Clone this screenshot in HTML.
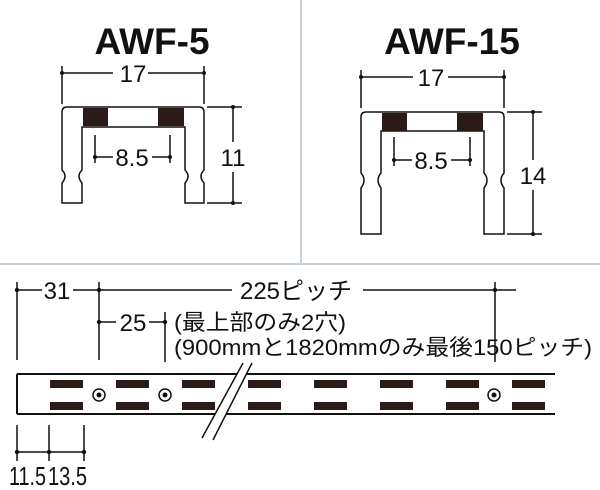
<!DOCTYPE html>
<html><head><meta charset="utf-8"><style>
html,body{margin:0;padding:0;background:#fff;}
svg{display:block;}
text{font-family:"Liberation Sans","Noto Sans CJK JP",sans-serif;fill:#111;}
</style></head><body>
<svg width="600" height="490" viewBox="0 0 600 490" xmlns="http://www.w3.org/2000/svg">
<line x1="301" y1="0" x2="301" y2="264" stroke="#c9d1d9" stroke-width="2"/>
<line x1="0" y1="264" x2="600" y2="264" stroke="#c9d1d9" stroke-width="2"/>
<text x="152" y="54" font-size="37" font-weight="bold" text-anchor="middle">AWF-5</text>
<text x="452" y="54" font-size="37" font-weight="bold" text-anchor="middle">AWF-15</text>

<g stroke="#111" stroke-width="1.5" fill="none">
<path d="M62,203 L62,183 Q68,176 62,170 L62,112 Q62,107 67,107 L199,107 Q204,107 204,112 L204,170 Q198,176 204,183 L204,203 L185,203 L185,183 Q191,176 185,170 L185,127 L82,127 L82,170 Q76,176 82,183 L82,203 Z"/>
<line x1="62" y1="66" x2="62" y2="104"/><line x1="204" y1="66" x2="204" y2="104"/>
<line x1="62" y1="73" x2="113" y2="73"/><line x1="148" y1="73" x2="204" y2="73"/>
<line x1="207" y1="107" x2="242" y2="107"/><line x1="207" y1="203" x2="242" y2="203"/>
<line x1="233" y1="107" x2="233" y2="142"/><line x1="233" y1="172" x2="233" y2="203"/>
<line x1="95" y1="135" x2="95" y2="163"/><line x1="170" y1="135" x2="170" y2="163"/>
<line x1="95" y1="157" x2="113" y2="157"/><line x1="152" y1="157" x2="170" y2="157"/>

<path d="M361,234 L361,188 Q367,180 361,173 L361,117 Q361,112 366,112 L499,112 Q504,112 504,117 L504,173 Q498,180 504,188 L504,234 L484,234 L484,188 Q490,180 484,173 L484,131 L381,131 L381,173 Q375,180 381,188 L381,234 Z"/>
<line x1="361" y1="70" x2="361" y2="108"/><line x1="504" y1="70" x2="504" y2="108"/>
<line x1="361" y1="77" x2="413" y2="77"/><line x1="448" y1="77" x2="504" y2="77"/>
<line x1="507" y1="112" x2="542" y2="112"/><line x1="507" y1="234" x2="542" y2="234"/>
<line x1="533" y1="112" x2="533" y2="160"/><line x1="533" y1="190" x2="533" y2="234"/>
<line x1="394" y1="137" x2="394" y2="166"/><line x1="470" y1="137" x2="470" y2="166"/>
<line x1="394" y1="160" x2="412" y2="160"/><line x1="451" y1="160" x2="470" y2="160"/>
</g>
<g fill="#2a1a18">
<rect x="83" y="108" width="25" height="18"/><rect x="158" y="108" width="26" height="18"/>
<rect x="382" y="113" width="25" height="18"/><rect x="457" y="113" width="26" height="18"/>
</g>
<g fill="#111">
<circle cx="62" cy="73" r="2"/><circle cx="204" cy="73" r="2"/>
<circle cx="233" cy="107" r="2"/><circle cx="233" cy="203" r="2"/>
<circle cx="95" cy="157" r="2"/><circle cx="170" cy="157" r="2"/>
<circle cx="361" cy="77" r="2"/><circle cx="504" cy="77" r="2"/>
<circle cx="533" cy="112" r="2"/><circle cx="533" cy="234" r="2"/>
<circle cx="394" cy="160" r="2"/><circle cx="470" cy="160" r="2"/>
</g>
<text x="133" y="82" font-size="24" text-anchor="middle">17</text>
<text x="233" y="166" font-size="24" text-anchor="middle">11</text>
<text x="132" y="166" font-size="24" text-anchor="middle">8.5</text>
<text x="431" y="86" font-size="24" text-anchor="middle">17</text>
<text x="533" y="184" font-size="24" text-anchor="middle">14</text>
<text x="431" y="169" font-size="24" text-anchor="middle">8.5</text>

<g stroke="#111" stroke-width="1.5" fill="none">
<line x1="17" y1="282" x2="17" y2="360"/>
<line x1="99" y1="282" x2="99" y2="360"/>
<line x1="165" y1="312" x2="165" y2="362"/>
<line x1="495" y1="282" x2="495" y2="362"/>
<line x1="17" y1="290" x2="42" y2="290"/><line x1="73" y1="290" x2="232" y2="290"/>
<line x1="363" y1="290" x2="516" y2="290"/>
<line x1="99" y1="322" x2="116" y2="322"/><line x1="149" y1="322" x2="165" y2="322"/>
</g>
<g stroke="#111" stroke-width="2" fill="none">
<line x1="17" y1="374" x2="555" y2="374"/><line x1="17" y1="414" x2="555" y2="414"/>
<line x1="17" y1="374" x2="17" y2="414"/>
</g>
<g stroke="#111" stroke-width="1.5" fill="none">
<line x1="17" y1="425" x2="17" y2="461"/><line x1="49" y1="425" x2="49" y2="461"/><line x1="84" y1="425" x2="84" y2="461"/>
<line x1="17" y1="452" x2="84" y2="452"/>
</g>
<g fill="#111">
<circle cx="17" cy="290" r="2.2"/><circle cx="99" cy="290" r="2.2"/><circle cx="495" cy="290" r="2.2"/>
<circle cx="99" cy="322" r="2.2"/><circle cx="165" cy="322" r="2.2"/>
<circle cx="17" cy="452" r="2.2"/><circle cx="49" cy="452" r="2.2"/><circle cx="84" cy="452" r="2.2"/>
</g>
<g fill="#2a1a18">
<rect x="50" y="380" width="33" height="8"/><rect x="50" y="402" width="33" height="8"/>
<rect x="116" y="380" width="33" height="8"/><rect x="116" y="402" width="33" height="8"/>
<rect x="182" y="380" width="33" height="8"/><rect x="182" y="402" width="33" height="8"/>
<rect x="248" y="380" width="33" height="8"/><rect x="248" y="402" width="33" height="8"/>
<rect x="314" y="380" width="33" height="8"/><rect x="314" y="402" width="33" height="8"/>
<rect x="380" y="380" width="33" height="8"/><rect x="380" y="402" width="33" height="8"/>
<rect x="446" y="380" width="33" height="8"/><rect x="446" y="402" width="33" height="8"/>
<rect x="512" y="380" width="33" height="8"/><rect x="512" y="402" width="33" height="8"/>
</g>
<g stroke="#111" stroke-width="1.5" fill="#fff">
<circle cx="99" cy="395" r="6"/><circle cx="165" cy="395" r="6"/><circle cx="494" cy="395" r="6"/>
</g>
<g fill="#111"><circle cx="99" cy="395" r="2.5"/><circle cx="165" cy="395" r="2.5"/><circle cx="494" cy="395" r="2.5"/></g>
<polygon points="243,363 252,363 213,440 202,438" fill="#fff"/>
<line x1="243" y1="363" x2="202" y2="438" stroke="#111" stroke-width="1.5"/>
<line x1="252" y1="363" x2="213" y2="440" stroke="#111" stroke-width="1.5"/>

<text x="57" y="299" font-size="24" text-anchor="middle">31</text>
<text x="296" y="299" font-size="24" text-anchor="middle">225ピッチ</text>
<text x="133" y="331" font-size="24" text-anchor="middle">25</text>
<text x="174" y="330" font-size="22" textLength="172" lengthAdjust="spacingAndGlyphs">(最上部のみ2穴)</text>
<text x="174" y="355" font-size="22" textLength="418" lengthAdjust="spacingAndGlyphs">(900mmと1820mmのみ最後150ピッチ)</text>
<text x="9" y="485" font-size="26" textLength="37" lengthAdjust="spacingAndGlyphs">11.5</text>
<text x="48" y="485" font-size="26" textLength="39" lengthAdjust="spacingAndGlyphs">13.5</text>
</svg>
</body></html>
